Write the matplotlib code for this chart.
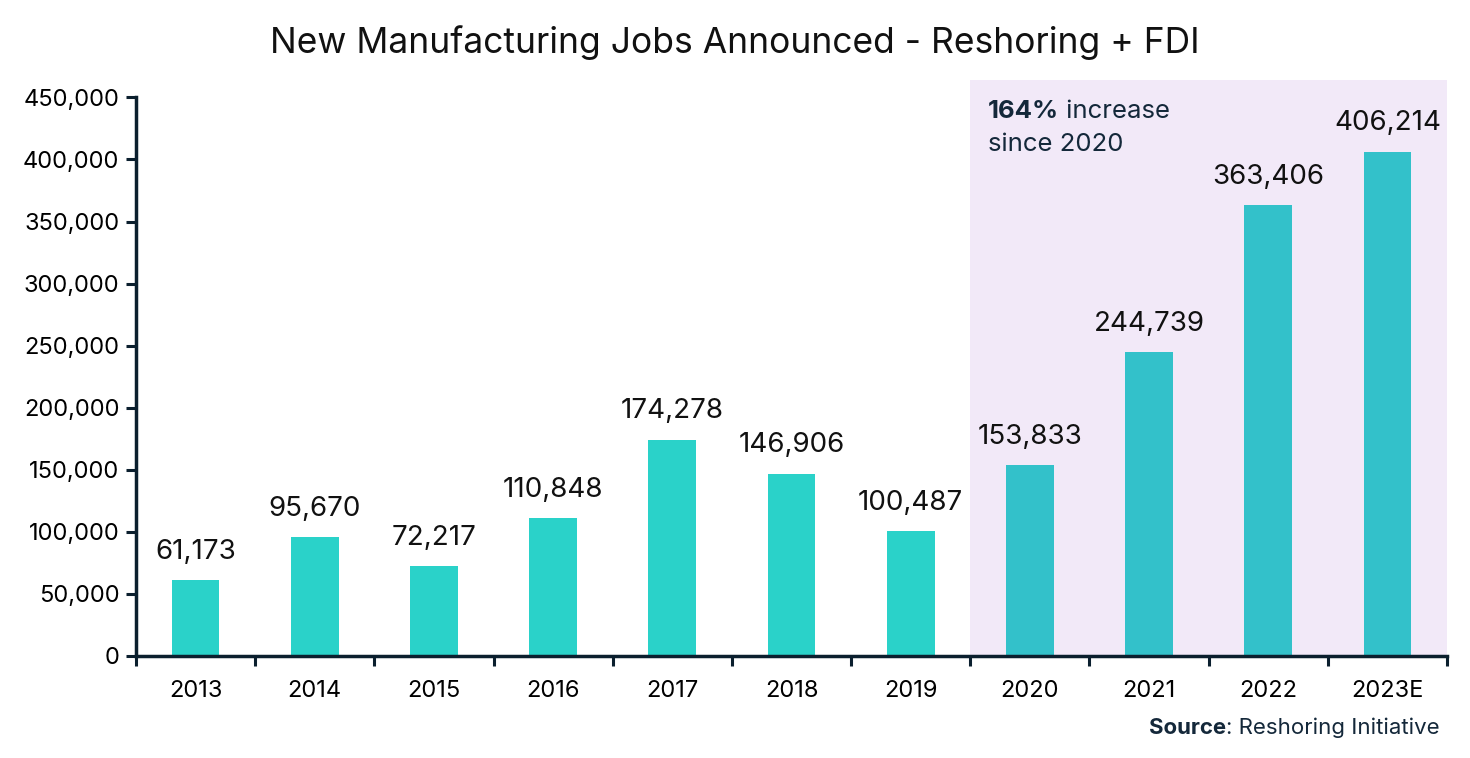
import matplotlib
matplotlib.use('Agg')
import matplotlib.pyplot as plt
from matplotlib.ticker import FuncFormatter

years = ['2013', '2014', '2015', '2016', '2017', '2018', '2019', '2020', '2021', '2022', '2023E']
jobs = [61173, 95670, 72217, 110848, 174278, 146906, 100487, 153833, 244739, 363406, 406214]
highlight_from = 7  # index of 2020

plt.rcParams['font.family'] = ['Inter', 'DejaVu Sans']
navy = '#0b1f2e'
text_navy = '#14283a'

fig = plt.figure(figsize=(14.7, 7.58), dpi=100)
ax = fig.add_axes([136 / 1470, 102 / 758, (1447 - 136) / 1470, (656 - 80) / 758])

x = list(range(len(years)))
colors = ['#2ad2c9' if i < highlight_from else '#33c1ca' for i in x]
ax.axvspan(highlight_from - 0.5, len(years) - 0.5, color='#f2e9f8', zorder=0, lw=0)
ax.bar(x, jobs, width=0.4, color=colors, zorder=2)

for xi, v in zip(x, jobs):
    ax.annotate(f'{v:,}', (xi, v), xytext=(0, 11), textcoords='offset points',
                ha='center', va='bottom', fontsize=20, color='#111111')

ax.set_xlim(-0.5, len(years) - 0.5)
ax.set_ylim(0, 464000)
ax.set_yticks(range(0, 450001, 50000))
ax.yaxis.set_major_formatter(FuncFormatter(lambda v, p: f'{int(v):,}'))
# ticks between the categories, labels centred under the bars
ax.set_xticks([i - 0.5 for i in range(len(years) + 1)])
ax.set_xticklabels([])
ax.set_xticks(x, minor=True)
ax.set_xticklabels(years, minor=True)
ax.tick_params(axis='x', which='minor', length=0, pad=17, labelsize=17)
ax.tick_params(axis='x', which='major', length=7, width=2.2, color=navy)
ax.tick_params(axis='y', length=7, width=2.2, color=navy, labelsize=17, pad=5)

for s in ['top', 'right']:
    ax.spines[s].set_visible(False)
for s in ['left', 'bottom']:
    ax.spines[s].set_linewidth(2.5)
    ax.spines[s].set_color(navy)
ax.spines['left'].set_bounds(0, 450000)

fig.text(0.5, 0.944, 'New Manufacturing Jobs Announced - Reshoring + FDI',
         ha='center', va='center', fontsize=25.5, color='#111111')

# annotation in the shaded area
t_bold = ax.text(highlight_from - 0.35, 438800, '164%', fontsize=18.5, color=text_navy,
                 fontweight='bold', va='center', ha='left')
ax.annotate(' increase', xy=(1, 0.5), xycoords=t_bold, va='center', ha='left',
            fontsize=18.5, color=text_navy)
ax.text(highlight_from - 0.35, 412200, 'since 2020', fontsize=18.5, color=text_navy,
        va='center', ha='left')

# source line
t_src = fig.text(1440 / 1470, 1 - 728 / 758, ': Reshoring Initiative', ha='right',
                 va='center', fontsize=16, color=text_navy)
fig.add_artist(plt.Annotation('Source', xy=(0, 0.5), xycoords=t_src, ha='right',
                              va='center', fontsize=16, color=text_navy,
                              fontweight='bold'))

fig.savefig('out.png', dpi=100)
